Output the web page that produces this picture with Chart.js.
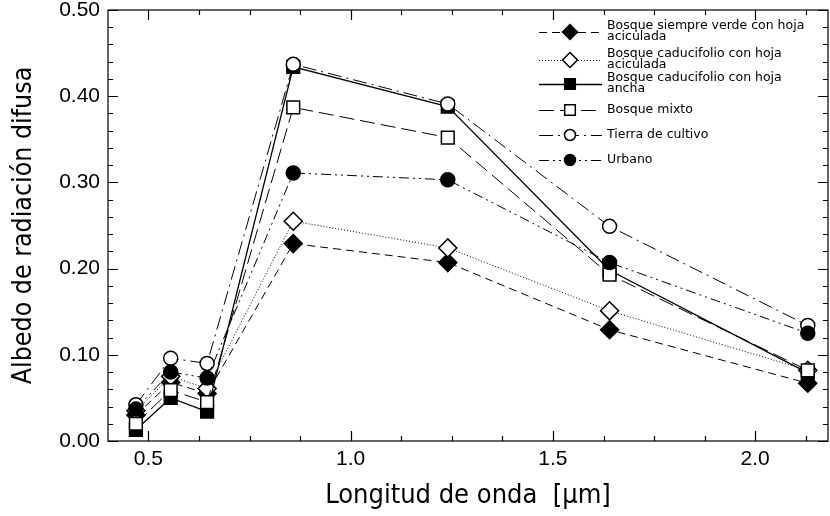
<!DOCTYPE html>
<html>
<head>
<meta charset="utf-8">
<script src="https://cdn.jsdelivr.net/npm/chart.js@4"></script>
<style>
  body { margin: 0; background: #fff; }
  #wrap { width: 830px; height: 516px; }
</style>
</head>
<body>
<div id="wrap"><canvas id="chart" width="830" height="516"></canvas></div>
<script>
// Wavelengths (µm) and diffuse albedo per land cover
const wavelengths = [0.469, 0.555, 0.645, 0.858, 1.24, 1.64, 2.13];
const siempreVerde = [0.030, 0.068, 0.055, 0.229, 0.207, 0.129, 0.067];
const caducAcic = [0.035, 0.075, 0.061, 0.255, 0.224, 0.151, 0.082];
const caducAncha = [0.013, 0.050, 0.034, 0.434, 0.388, 0.198, 0.079];
const mixto = [0.020, 0.059, 0.045, 0.387, 0.352, 0.193, 0.082];
const cultivo = [0.042, 0.096, 0.090, 0.437, 0.391, 0.249, 0.134];
const urbano = [0.037, 0.080, 0.073, 0.311, 0.303, 0.207, 0.125];

const xTicks = [0.5, 1.0, 1.5, 2.0];
const yTicks = [0, 0.1, 0.2, 0.3, 0.4, 0.5];

const labels = [
    ['Bosque siempre verde con hoja', 'aciculada'],
    ['Bosque caducifolio con hoja', 'aciculada'],
    ['Bosque caducifolio con hoja', 'ancha'],
    ['Bosque mixto'],
    ['Tierra de cultivo'],
    ['Urbano']
];

const titleFont = '"DejaVu Sans Condensed", "DejaVu Sans"';
const tickFont = '"Liberation Sans", Arial';

function toPoints(values) {
    return values.map((v, i) => ({ x: wavelengths[i], y: v }));
}

function makeSet(idx, values, style) {
    return Object.assign({
        label: labels[idx].join(' '),
        data: toPoints(values),
        borderColor: '#000',
        borderWidth: 1,
        pointBorderColor: '#000',
        pointBorderWidth: 1.5,
        pointRadius: 8,
        pointHoverRadius: 8,
        order: -idx
    }, style);
}

const datasets = [
    makeSet(0, siempreVerde, { borderDash: [8, 5], pointStyle: 'rectRot', pointRadius: 9, pointBackgroundColor: '#000' }),
    makeSet(1, caducAcic, { borderDash: [1, 2], pointStyle: 'rectRot', pointRadius: 9, pointBackgroundColor: '#fff' }),
    makeSet(2, caducAncha, { borderDash: [], borderWidth: 1.3, pointStyle: 'rect', pointRadius: 9, pointBackgroundColor: '#000' }),
    makeSet(3, mixto, { borderDash: [15, 6], pointStyle: 'rect', pointRadius: 9, pointBackgroundColor: '#fff' }),
    makeSet(4, cultivo, { borderDash: [14, 5, 2, 5], pointStyle: 'circle', pointRadius: 7, pointBackgroundColor: '#fff' }),
    makeSet(5, urbano, { borderDash: [10, 4, 2, 4, 2, 4], pointStyle: 'circle', pointRadius: 7, pointBackgroundColor: '#000' })
];

// Frame with inward ticks on all four sides
const framePlugin = {
    id: 'frame',
    afterDraw(chart) {
        const ctx = chart.ctx;
        const a = chart.chartArea;
        const xs = chart.scales.x;
        const ys = chart.scales.y;
        ctx.save();
        ctx.strokeStyle = '#000';
        ctx.lineWidth = 1.2;
        ctx.strokeRect(a.left, a.top, a.right - a.left, a.bottom - a.top);
        ctx.beginPath();
        for (let k = 0; k <= 25; k++) {
            const v = k * 0.02;
            const y = Math.round(ys.getPixelForValue(v)) + 0.5;
            const len = k % 5 === 0 ? 10 : 5;
            ctx.moveTo(a.left, y); ctx.lineTo(a.left + len, y);
            ctx.moveTo(a.right, y); ctx.lineTo(a.right - len, y);
        }
        for (let k = 0; k <= 13; k++) {
            const v = 0.5 + k * 0.125;
            if (v > xs.max) break;
            const x = Math.round(xs.getPixelForValue(v)) + 0.5;
            const len = k % 4 === 0 ? 10 : 5;
            ctx.moveTo(x, a.bottom); ctx.lineTo(x, a.bottom - len);
            ctx.moveTo(x, a.top); ctx.lineTo(x, a.top + len);
        }
        ctx.stroke();
        ctx.restore();
    }
};

// Legend drawn by hand so the labels can wrap on two lines
const legendPlugin = {
    id: 'customLegend',
    afterDraw(chart) {
        const ctx = chart.ctx;
        const rows = [32, 60, 84, 110, 135, 160];
        ctx.save();
        ctx.font = '12.5px "DejaVu Sans", sans-serif';
        ctx.textBaseline = 'middle';
        ctx.fillStyle = '#000';
        datasets.forEach((ds, i) => {
            const y = rows[i];
            ctx.save();
            ctx.strokeStyle = '#000';
            ctx.lineWidth = ds.borderWidth;
            ctx.setLineDash(ds.borderDash);
            ctx.beginPath();
            ctx.moveTo(539, y + 0.5);
            ctx.lineTo(602, y + 0.5);
            ctx.stroke();
            ctx.setLineDash([]);
            ctx.fillStyle = ds.pointBackgroundColor;
            ctx.lineWidth = 1.5;
            Chart.helpers.drawPoint(ctx, {
                pointStyle: ds.pointStyle,
                radius: ds.pointRadius - 1.5,
                rotation: 0,
                borderWidth: 1.5
            }, 570, y);
            ctx.restore();
            const lines = labels[i];
            if (lines.length === 2) {
                ctx.fillText(lines[0], 607, y - 6);
                ctx.fillText(lines[1], 607, y + 5);
            } else {
                ctx.fillText(lines[0], 607, y);
            }
        });
        ctx.restore();
    }
};

new Chart(document.getElementById('chart'), {
    type: 'line',
    data: { datasets: datasets },
    options: {
        responsive: false,
        devicePixelRatio: 1,
        animation: false,
        layout: { autoPadding: false, padding: { top: 10, right: 2, left: 0, bottom: 0 } },
        plugins: {
            legend: { display: false },
            tooltip: { enabled: false }
        },
        scales: {
            x: {
                type: 'linear',
                min: 0.4,
                max: 2.18,
                afterBuildTicks: axis => { axis.ticks = xTicks.map(v => ({ value: v })); },
                afterFit: axis => {
                    axis.height = 75;
                    axis.paddingLeft = 0;
                    axis.paddingRight = 0;
                },
                grid: { drawOnChartArea: false, drawTicks: false },
                border: { display: false },
                ticks: {
                    padding: 6,
                    color: '#000',
                    font: { family: tickFont, size: 21 },
                    callback: v => v.toFixed(1)
                },
                title: {
                    display: true,
                    text: 'Longitud de onda  [µm]',
                    color: '#000',
                    font: { family: titleFont, size: 27 },
                    padding: { top: 0, bottom: 4 }
                }
            },
            y: {
                type: 'linear',
                min: 0,
                max: 0.5,
                afterBuildTicks: axis => { axis.ticks = yTicks.map(v => ({ value: v })); },
                afterFit: axis => {
                    axis.width = 108;
                    axis.paddingTop = 0;
                    axis.paddingBottom = 0;
                },
                grid: { drawOnChartArea: false, drawTicks: false },
                border: { display: false },
                ticks: {
                    padding: 8,
                    color: '#000',
                    font: { family: tickFont, size: 21 },
                    callback: v => v.toFixed(2)
                },
                title: {
                    display: true,
                    text: 'Albedo de radiación difusa',
                    color: '#000',
                    font: { family: titleFont, size: 26.5 },
                    padding: { top: 8, bottom: 0 }
                }
            }
        }
    },
    plugins: [framePlugin, legendPlugin]
});
</script>
</body>
</html>
